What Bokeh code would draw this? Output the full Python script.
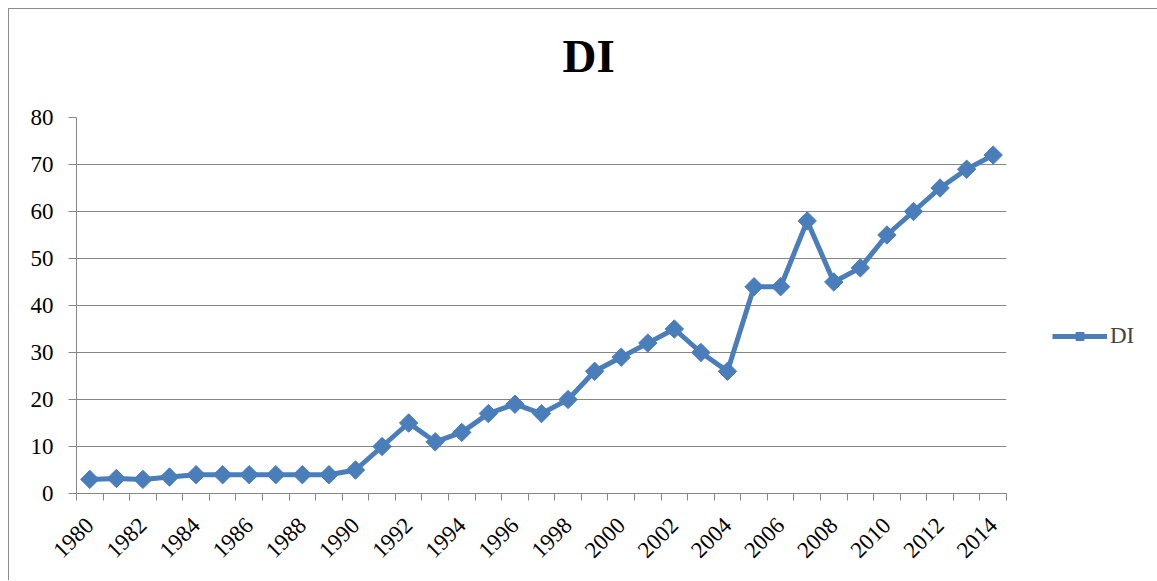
import math
from bokeh.plotting import figure
from bokeh.models import FixedTicker, Range1d, Legend, LegendItem, ColumnDataSource, Title
from bokeh.embed import file_html
from bokeh.resources import INLINE

years = list(range(1980, 2015))
di = [3, 3.2, 3, 3.5, 4, 4, 4, 4, 4, 4, 5, 10, 15, 11, 13, 17, 19, 17, 20, 26,
      29, 32, 35, 30, 26, 44, 44, 58, 45, 48, 55, 60, 65, 69, 72]
y_ticks = [0, 10, 20, 30, 40, 50, 60, 70, 80]
x_label_years = list(range(1980, 2015, 2))

FONT = "Liberation Serif"
BLUE = "#4A7EBB"
GRID = "#868686"

src = ColumnDataSource(dict(x=years, y=di))

p = figure(frame_width=930, frame_height=376, output_backend="svg", toolbar_location=None,
           x_range=Range1d(years[0] - 0.5, years[-1] + 0.5),
           y_range=Range1d(0, 80),
           min_border_left=67, min_border_right=150, min_border_top=108, min_border_bottom=87)
p.styles = {"margin-left": "8px", "margin-top": "8px",
            "border-left": "1px solid #8c8c8c", "border-top": "1px solid #8c8c8c"}
p.outline_line_color = None
p.background_fill_color = "white"
p.border_fill_color = "white"

# spacer between title and plot area (closest to the frame)
spacer = Title(text=" ", text_font=FONT, text_font_size="20px", text_color="white", standoff=12)
p.add_layout(spacer, "above")
t = Title(text="DI", align="left", offset=486, text_font=FONT, text_font_size="47px",
          text_font_style="bold", text_color="black", standoff=0)
p.add_layout(t, "above")
p.title.visible = False

r_line = p.line("x", "y", source=src, line_color=BLUE, line_width=5)
r_mark = p.scatter("x", "y", source=src, marker="square", size=13, angle=math.pi / 4,
                   fill_color=BLUE, line_color=BLUE)

# x axis
p.xaxis.ticker = FixedTicker(ticks=x_label_years,
                             minor_ticks=[y - 0.5 for y in years] + [years[-1] + 0.5])
p.xaxis.major_label_orientation = math.pi / 4
p.xaxis.major_tick_line_color = None
p.xaxis.major_tick_out = 0
p.xaxis.major_tick_in = 0
p.xaxis.minor_tick_out = 7
p.xaxis.minor_tick_in = 0
p.xaxis.minor_tick_line_color = GRID
p.xaxis.axis_line_color = GRID
p.xaxis.major_label_text_font = FONT
p.xaxis.major_label_text_font_size = "23px"
p.xaxis.major_label_text_color = "black"
p.xaxis.major_label_standoff = 21

# y axis
p.yaxis.ticker = FixedTicker(ticks=y_ticks)
p.yaxis.major_tick_out = 8
p.yaxis.major_tick_in = 0
p.yaxis.minor_tick_line_color = None
p.yaxis.major_tick_line_color = GRID
p.yaxis.axis_line_color = GRID
p.yaxis.major_label_text_font = FONT
p.yaxis.major_label_text_font_size = "23px"
p.yaxis.major_label_text_color = "black"
p.yaxis.major_label_standoff = 15

p.xgrid.grid_line_color = None
p.ygrid.grid_line_color = GRID
p.ygrid.grid_line_width = 1

legend = Legend(items=[LegendItem(label="DI", renderers=[r_line, r_mark])],
                location=(46, 144), padding=0, margin=0, border_line_color=None,
                background_fill_alpha=0, label_text_font=FONT, label_text_font_size="23px",
                glyph_width=55, glyph_height=20, label_standoff=3, label_height=20)
p.add_layout(legend, "right")

open("out.html", "w").write(file_html(p, INLINE))
